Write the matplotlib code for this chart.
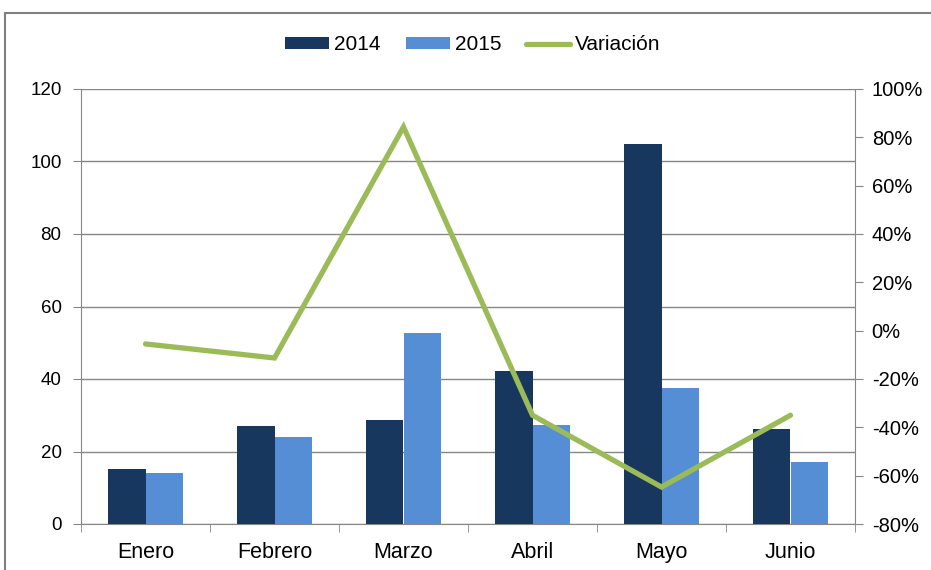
import matplotlib
matplotlib.use("Agg")
import matplotlib.ticker as ticker
import numpy as np
from matplotlib import pyplot as plt
from matplotlib.patches import Rectangle

plt.rcParams["font.family"] = ["Liberation Sans", "DejaVu Sans"]

months = ["Enero", "Febrero", "Marzo", "Abril", "Mayo", "Junio"]
values_2014 = [15.2, 27.0, 28.7, 42.2, 104.8, 26.2]
values_2015 = [14.1, 24.0, 52.7, 27.3, 37.5, 17.1]
variation = [-5.5, -11.3, 84.3, -35.0, -64.7, -35.0]  # percent

dark = "#17375E"
light = "#558ED5"
green = "#9BBB59"
axis_grey = "#868686"

fig = plt.figure(figsize=(9.31, 5.70), dpi=100)
ax = fig.add_axes([81/931, 1-524/570, (855-81)/931, (524-89)/570])

# outer chart frame
fig.patches.append(Rectangle((5/931, -0.05), 1.05, 1-13/570+0.05,
                             transform=fig.transFigure, fill=False,
                             edgecolor="#7f7f7f", linewidth=1.5))

x = np.arange(len(months))
w = 0.287
ax.bar(x - w/2, values_2014, width=w, color=dark, label="2014", zorder=3)
ax.bar(x + w/2, values_2015, width=w, color=light, label="2015", zorder=3)

ax.set_xlim(-0.5, len(months) - 0.5)
ax.set_ylim(0, 120)
ax.yaxis.set_major_locator(ticker.MultipleLocator(20))
ax.grid(axis="y", color=axis_grey, linewidth=1, zorder=0)

ax.set_xticks(x)
ax.set_xticklabels(months)
ax.set_xticks(np.arange(-0.5, len(months)), minor=True)
ax.tick_params(axis="x", which="major", length=0, pad=13, labelsize=15.5)
ax.tick_params(axis="x", which="minor", length=6, color=axis_grey, direction="out")
ax.tick_params(axis="y", length=6, color=axis_grey, labelsize=13.5, pad=8)

for s in ["top", "right"]:
    ax.spines[s].set_visible(False)
for s in ["left", "bottom"]:
    ax.spines[s].set_color(axis_grey)

ax2 = ax.twinx()
ax2.plot(x, variation, color=green, linewidth=3.8, label="Variación",
         solid_capstyle="round", solid_joinstyle="miter", zorder=4)
ax2.set_ylim(-80, 100)
ax2.yaxis.set_major_locator(ticker.MultipleLocator(20))
ax2.yaxis.set_major_formatter(ticker.FuncFormatter(lambda v, p: f"{v:.0f}%"))
ax2.tick_params(axis="y", length=6, color=axis_grey, labelsize=14.5, pad=6)
for s in ["top", "left", "bottom"]:
    ax2.spines[s].set_visible(False)
ax2.spines["right"].set_color(axis_grey)

h1, l1 = ax.get_legend_handles_labels()
h2, l2 = ax2.get_legend_handles_labels()
fig.legend(h1 + h2, l1 + l2, loc="center", bbox_to_anchor=(473/931, 1-45/570),
           ncol=3, frameon=False, fontsize=15, handlelength=2.1,
           handleheight=0.55, handletextpad=0.25, columnspacing=1.2)

fig.savefig("out.png", dpi=100)
